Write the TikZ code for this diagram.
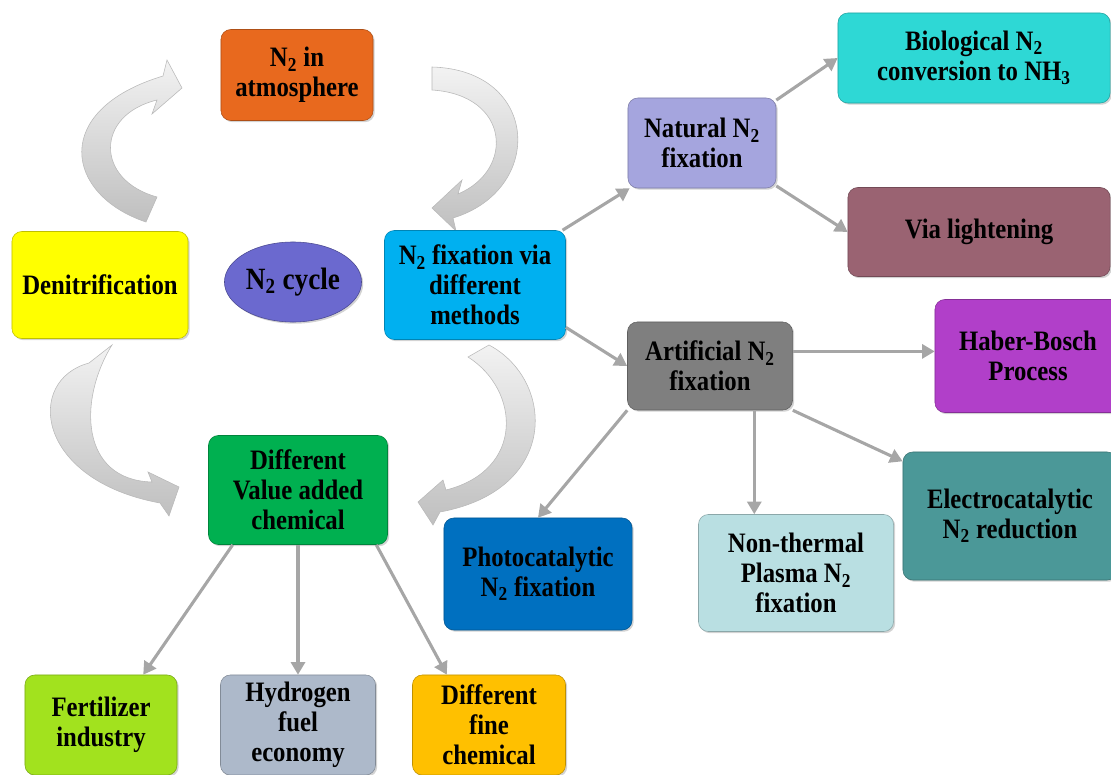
\documentclass[tikz,border=0pt]{standalone}
\usepackage{fontspec}
\setmainfont{Liberation Serif}[FakeStretch=0.88]
\usetikzlibrary{shapes.geometric,shadows,arrows.meta}
\newcommand{\Ntwo}{N\textsubscript{2}}
\definecolor{atmcol}{HTML}{E8691E}
\definecolor{denitcol}{HTML}{FFFF00}
\definecolor{cyclecol}{HTML}{6B69CF}
\definecolor{fixcol}{HTML}{00B0F0}
\definecolor{natcol}{HTML}{A5A5DE}
\definecolor{biocol}{HTML}{2ED8D5}
\definecolor{viacol}{HTML}{9A6372}
\definecolor{habercol}{HTML}{B13FC9}
\definecolor{artcol}{HTML}{7F7F7F}
\definecolor{eleccol}{HTML}{4B9898}
\definecolor{photocol}{HTML}{0070C0}
\definecolor{plasmacol}{HTML}{B9DFE2}
\definecolor{valuecol}{HTML}{00B050}
\definecolor{fertcol}{HTML}{A2E21E}
\definecolor{hydrocol}{HTML}{ADB9CA}
\definecolor{finecol}{HTML}{FFC000}
\definecolor{linkgray}{HTML}{A6A6A6}
\begin{document}
\begin{tikzpicture}[
x=0.025cm, y=-0.025cm,
box/.style={
draw=#1!75!black,
fill=#1,
rounded corners=7pt,
align=center,
inner sep=1pt,
font=\fontsize{20}{21.3}\selectfont\bfseries,
drop shadow={shadow xshift=1.2pt, shadow yshift=-1.2pt, opacity=.35}
},
link/.style={
draw=linkgray,
line width=2.2pt,
-{Triangle[length=9pt,width=10pt]}
},
cyclearrow/.style={
draw=gray!55,
line width=.4pt,
top color=gray!10,
bottom color=gray!50
}
]
\useasboundingbox (0,0) rectangle (1111,775);

% cycle arrows
\path[cyclearrow] (146,222) .. controls (65,195) and (50,110) .. (163,76)
-- (167,60) -- (182,88) -- (152,114) -- (157,100)
.. controls (95,115) and (95,180) .. (157,197) -- cycle;
\path[cyclearrow] (432,67) .. controls (540,70) and (545,190) .. (453,218)
-- (456,231) -- (432,208) -- (462,180) -- (458,194)
.. controls (515,170) and (510,95) .. (432,90) -- cycle;
\path[cyclearrow] (489,345) .. controls (555,380) and (560,490) .. (440,512)
-- (433,525) -- (418,502) -- (443,480) -- (446,490)
.. controls (525,470) and (520,390) .. (468,357) -- cycle;
\path[cyclearrow] (89,363) .. controls (25,380) and (35,480) .. (160,503)
-- (169,516) -- (179,487) -- (148,472) -- (152,482)
.. controls (80,480) and (78,400) .. (112,345) -- cycle;

% nodes
\node[box=atmcol, minimum width=3.8cm, minimum height=2.275cm] (atm) at (297,75)
{\Ntwo{} in\\atmosphere};

\node[box=denitcol, minimum width=4.4cm, minimum height=2.675cm] (denit) at (100,285)
{Denitrification};

\node[box=cyclecol, ellipse, draw=cyclecol!70!black, minimum width=3.15cm, minimum height=2cm,
font=\fontsize{22}{24}\selectfont\bfseries] (cycle) at (293,282)
{\Ntwo{} cycle};

\node[box=fixcol, minimum width=4.525cm, minimum height=2.725cm] (fix) at (475,285)
{\Ntwo{} fixation via\\different\\methods};

\node[box=natcol, minimum width=3.7cm, minimum height=2.25cm] (nat) at (702,143)
{Natural \Ntwo\\fixation};

\node[box=biocol, minimum width=6.8cm, minimum height=2.25cm] (bio) at (974,58)
{Biological \Ntwo\\conversion to NH\textsubscript{3}};

\node[box=viacol, minimum width=6.55cm, minimum height=2.225cm] (via) at (979,232)
{Via lightening};

\node[box=artcol, minimum width=4.125cm, minimum height=2.2cm] (art) at (710,366)
{Artificial \Ntwo\\fixation};

\node[box=habercol, minimum width=4.65cm, minimum height=2.825cm] (haber) at (1028,356)
{Haber-Bosch\\Process};

\node[box=eleccol, minimum width=5.35cm, minimum height=3.2cm] (elec) at (1010,516)
{Electrocatalytic\\\Ntwo{} reduction};

\node[box=photocol, minimum width=4.7cm, minimum height=2.8cm] (photo) at (538,574)
{Photocatalytic\\\Ntwo{} fixation};

\node[box=plasmacol, minimum width=4.875cm, minimum height=2.925cm] (plasma) at (796,573)
{Non-thermal\\Plasma \Ntwo\\fixation};

\node[box=valuecol, minimum width=4.475cm, minimum height=2.725cm] (value) at (298,490)
{Different\\Value added\\chemical};

\node[box=fertcol, minimum width=3.8cm, minimum height=2.5cm] (fert) at (101,725)
{Fertilizer\\industry};

\node[box=hydrocol, minimum width=3.875cm, minimum height=2.5cm] (hydro) at (298,725)
{Hydrogen\\fuel\\economy};

\node[box=finecol, minimum width=3.825cm, minimum height=2.5cm] (fine) at (489,725)
{Different\\fine\\chemical};

% links
\draw[link] (fix) -- (nat);
\draw[link] (fix.-25) -- (art.west);
\draw[link] (nat.30) -- (bio.west);
\draw[link] (nat.-30) -- (via.west);
\draw[link] (art.10) -- (art.10 -| haber.west);
\draw[link] (art.south west) -- (photo.north);
\draw[link] (art.-45) -- (art.-45 |- plasma.north);
\draw[link] (art.south east) -- (elec.153);
\draw[link] (value.-140) -- (fert.50);
\draw[link] (value.south) -- (hydro.north);
\draw[link] (value.-35) -- (fine.130);

\end{tikzpicture}
\end{document}
